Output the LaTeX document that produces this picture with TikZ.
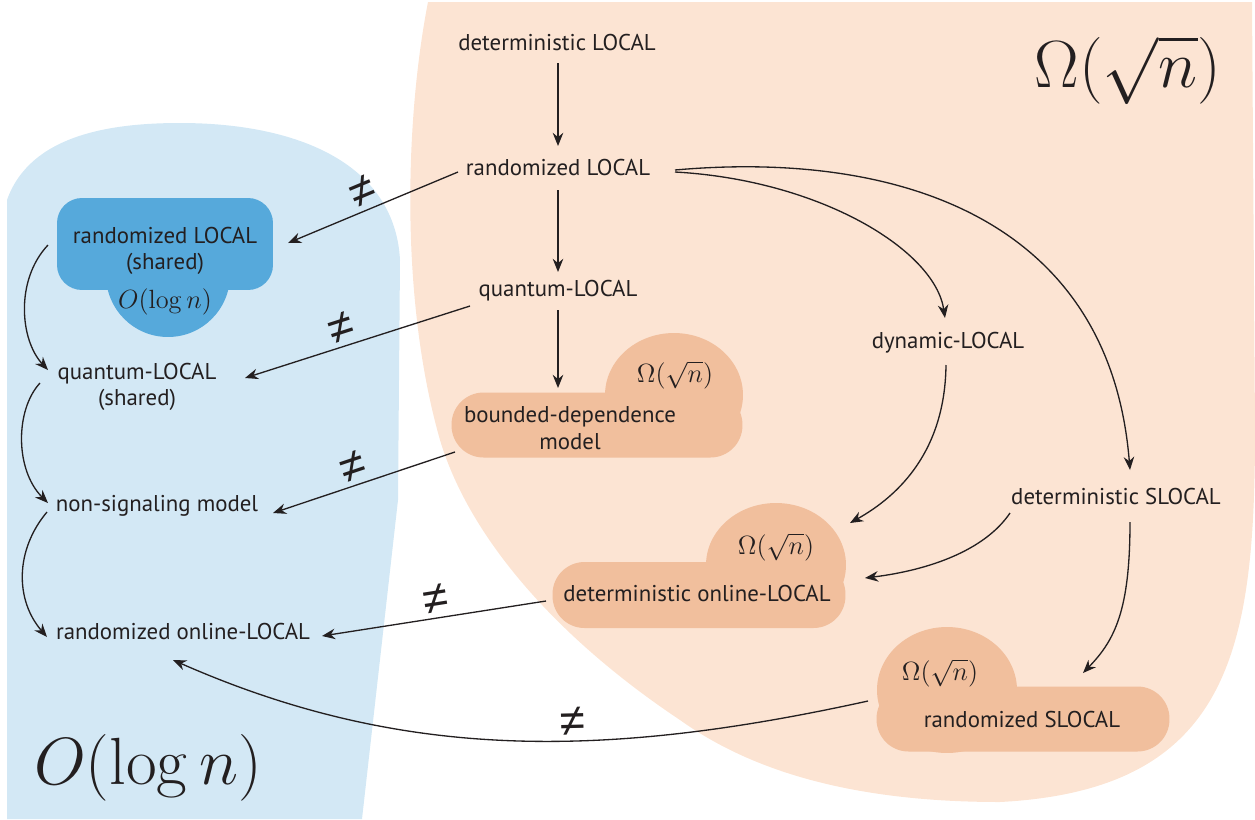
\documentclass[tikz,border=0pt]{standalone}
\usepackage{fix-cm}
\usepackage[no-math]{fontspec}
\setmainfont{PT Sans}
\newfontfamily\neqfont{Liberation Sans}
\usetikzlibrary{arrows.meta, shapes.geometric}
\definecolor{blueback}{HTML}{D3E8F5}
\definecolor{bluenode}{HTML}{56A9DB}
\definecolor{peachback}{HTML}{FCE4D3}
\definecolor{peachnode}{HTML}{F1BF9D}
\definecolor{ink}{HTML}{231F20}

\begin{document}
\begin{tikzpicture}[x = 0.02cm, y = -0.02cm,
    model/.style = {text = ink, font = \fontsize{13}{15}\selectfont, inner sep = 2pt, align = center},
    blob/.style = {fill = #1, draw = none, inner sep = 0pt},
    bound/.style = {text = ink, font = \fontsize{15}{15}\selectfont},
    big/.style = {text = ink, font = \fontsize{38}{38}\selectfont},
    arr/.style = {draw = ink, line width = 0.75pt, -{Stealth[length = 7.5pt, width = 6pt]}},
    neq/.style = {text = ink, font = \neqfont\fontsize{26}{26}\selectfont, sloped, above = 2pt, inner sep = 0pt}]
    \useasboundingbox (0,0) rectangle (1255,819);
    % the two regions
    \fill[blueback] (7,819) -- (7,200) .. controls (30,135) and (110,123) .. (180,123)
        .. controls (300,123) and (395,165) .. (400,260) -- (398,500) -- (362,819) -- cycle;
    \fill[peachback] (428,2) -- (1252,2) -- (1255,430) .. controls (1255,650) and (1230,790) .. (1000,802)
        .. controls (850,802) and (750,770) .. (680,720) .. controls (560,640) and (470,540) .. (440,440)
        .. controls (400,300) and (405,120) .. (428,2) -- cycle;
    \node[big] (lower) at (148,768) {$O(\log n)$};
    \node[big] (upper) at (1128,70) {$\Omega(\sqrt{n})$};

    % bubbles
    \node[blob = bluenode, rectangle, rounded corners = 0.5cm, minimum width = 4.32cm, minimum height = 1.84cm] (rlsbox) at (165,244) {};
    \node[blob = bluenode, circle, minimum size = 2.48cm] (rlsbump) at (168,275) {};
    \node[blob = peachnode, rectangle, rounded corners = 0.64cm, minimum width = 5.82cm, minimum height = 1.3cm] (bdbox) at (597,425) {};
    \node[blob = peachnode, ellipse, minimum width = 2.76cm, minimum height = 2.48cm] (bdbump) at (674,395) {};
    \node[blob = peachnode, rectangle, rounded corners = 0.64cm, minimum width = 5.86cm, minimum height = 1.32cm] (dobox) at (699,595) {};
    \node[blob = peachnode, ellipse, minimum width = 2.8cm, minimum height = 2.48cm] (dobump) at (776,565) {};
    \node[blob = peachnode, rectangle, rounded corners = 0.64cm, minimum width = 5.86cm, minimum height = 1.3cm] (rsbox) at (1023,719) {};
    \node[blob = peachnode, ellipse, minimum width = 2.8cm, minimum height = 2.52cm] (rsbump) at (947,690) {};

    % models
    \node[model] (dl) at (557,43) {deterministic LOCAL};
    \node[model] (rl) at (558,167) {randomized LOCAL};
    \node[model] (ql) at (558,291) {quantum-LOCAL};
    \node[model] (bd) at (570,428) {bounded-dependence\\model};
    \node[model] (dyn) at (948,343) {dynamic-LOCAL};
    \node[model] (ds) at (1116,496) {deterministic SLOCAL};
    \node[model] (do) at (697,593) {deterministic online-LOCAL};
    \node[model] (rs) at (1022,719) {randomized SLOCAL};
    \node[model] (rls) at (165,251) {randomized LOCAL\\(shared)};
    \node[model] (qs) at (137,387) {quantum-LOCAL\\(shared)};
    \node[model] (ns) at (157,506) {non-signaling model};
    \node[model] (ro) at (183,631) {randomized online-LOCAL};
    \node[bound] (rlsb) at (165,302) {$O(\log n)$};
    \node[bound] (bdb) at (675,375) {$\Omega(\sqrt{n})$};
    \node[bound] (dob) at (776,547) {$\Omega(\sqrt{n})$};
    \node[bound] (rsb) at (940,673) {$\Omega(\sqrt{n})$};

    % arrows
    \draw[arr] ([shift = {(1,20)}]dl.center) -- ([shift = {(0,-21)}]rl.center);
    \draw[arr] ([shift = {(0,23)}]rl.center) -- ([shift = {(0,-19)}]ql.center);
    \draw[arr] ([shift = {(0,19)}]ql.center) -- ([shift = {(-12,-40)}]bd.center);
    \draw[arr] ([shift = {(117,5)}]rl.center) .. controls (820,180) and (935,250) .. ([shift = {(-3,-25)}]dyn.center);
    \draw[arr] ([shift = {(117,3)}]rl.center) .. controls (900,150) and (1110,220) .. ([shift = {(14,-26)}]ds.center);
    \draw[arr] ([shift = {(-2,22)}]dyn.center) .. controls (945,450) and (900,495) .. ([shift = {(153,-70)}]do.center);
    \draw[arr] ([shift = {(-106,17)}]ds.center) .. controls (985,550) and (930,570) .. ([shift = {(168,-15)}]do.center);
    \draw[arr] ([shift = {(14,26)}]ds.center) .. controls (1130,610) and (1115,640) .. ([shift = {(61,-46)}]rs.center);
    \draw[arr] ([shift = {(-100,5)}]rl.center) -- node[neq, pos = 0.52] {≠} ([shift = {(123,-8)}]rls.center);
    \draw[arr] ([shift = {(-88,15)}]ql.center) -- node[neq, pos = 0.55] {≠} ([shift = {(108,-9)}]qs.center);
    \draw[arr] ([shift = {(-115,24)}]bd.center) -- node[neq, pos = 0.53] {≠} ([shift = {(116,7)}]ns.center);
    \draw[arr] ([shift = {(-151,8)}]do.center) -- node[neq, pos = 0.48] {≠} ([shift = {(139,5)}]ro.center);
    \draw[arr] ([shift = {(-154,-18)}]rs.center) .. controls (600,760) and (400,760) .. node[neq, pos = 0.4] {≠} ([shift = {(-10,29)}]ro.center);
    \draw[arr] ([shift = {(-117,-6)}]rls.center) .. controls (15,280) and (20,340) .. ([shift = {(-89,-17)}]qs.center);
    \draw[arr] ([shift = {(-97,-4)}]qs.center) .. controls (15,410) and (15,470) .. ([shift = {(-109,-3)}]ns.center);
    \draw[arr] ([shift = {(-110,6)}]ns.center) .. controls (15,550) and (15,600) .. ([shift = {(-136,6)}]ro.center);
\end{tikzpicture}
\end{document}
